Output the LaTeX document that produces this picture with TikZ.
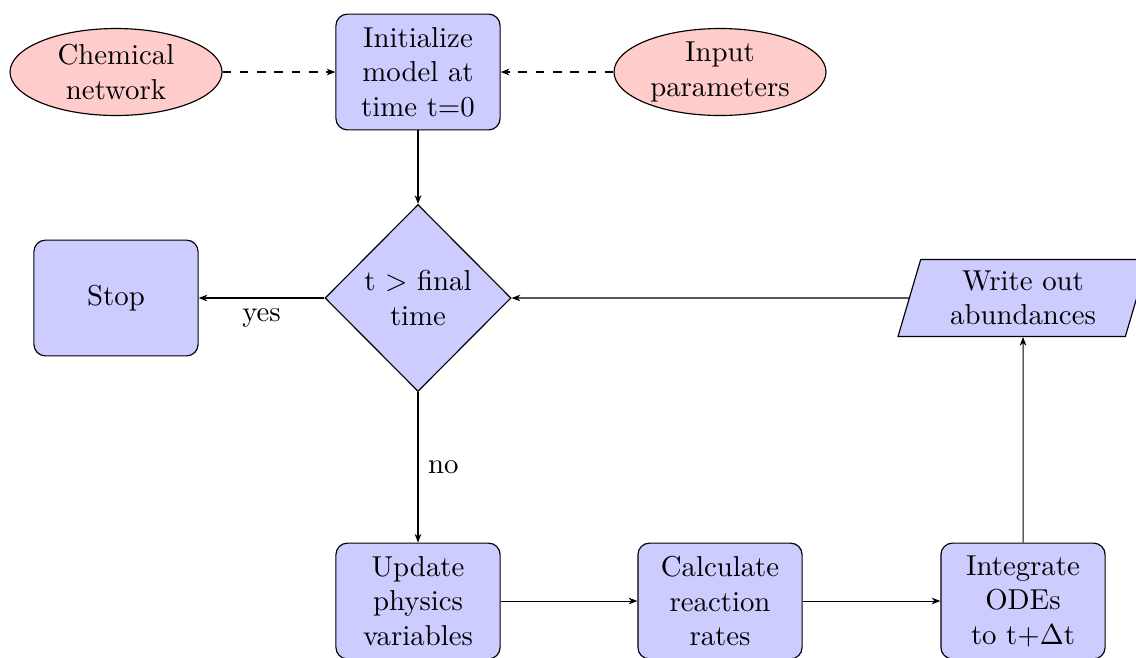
\documentclass[tikz,border=0pt]{standalone}
\usetikzlibrary{shapes.geometric,arrows.meta}
\begin{document}
\begin{tikzpicture}[x=0.3472pt,y=-0.3472pt,
  proc/.style={rectangle, rounded corners=4pt, draw, fill=blue!20,
    minimum width=57pt, minimum height=40.2pt, align=center, inner sep=1pt},
  src/.style={ellipse, draw, fill=red!20, minimum width=73.6pt,
    minimum height=30.2pt, align=center, inner sep=0pt},
  decide/.style={diamond, draw, fill=blue!20, minimum width=64.6pt,
    minimum height=64.9pt, aspect=1, inner sep=0pt, align=center},
  iobox/.style={trapezium, trapezium left angle=69.4, trapezium right angle=110.6,
    trapezium stretches body, draw, fill=blue!20, minimum width=86.8pt,
    minimum height=26.7pt, align=center, inner sep=1pt},
  arr/.style={-{Stealth[length=3pt,width=2.3pt,inset=0.9pt]}, line width=0.36pt},
  darr/.style={arr, dashed}]
\useasboundingbox (0,0) rectangle (1136,657);
\node[src] (chem) at (116,72) {Chemical\\network};
\node[proc] (init) at (418,72) {Initialize\\model at\\time t=0};
\node[src] (input) at (720,72) {Input\\parameters};
\node[decide] (dec) at (418,298) {t $>$ final\\time};
\node[proc] (stop) at (116,298) {Stop};
\node[iobox] (write) at (1023,298) {Write out\\abundances};
\node[proc] (update) at (418,601) {Update\\physics\\variables};
\node[proc] (calc) at (720,601) {Calculate\\reaction\\rates};
\node[proc] (integ) at (1023,601) {Integrate\\ODEs\\to t+$\Delta$t};
\draw[darr] (chem) -- (init);
\draw[darr] (input) -- (init);
\draw[arr] (init) -- (dec);
\draw[arr] (dec) -- node[below] {yes} (stop);
\draw[arr] (dec) -- node[right] {no} (update);
\draw[arr] (update) -- (calc);
\draw[arr] (calc) -- (integ);
\draw[arr] (integ) -- (write);
\draw[arr] (write) -- (dec);
\end{tikzpicture}
\end{document}
